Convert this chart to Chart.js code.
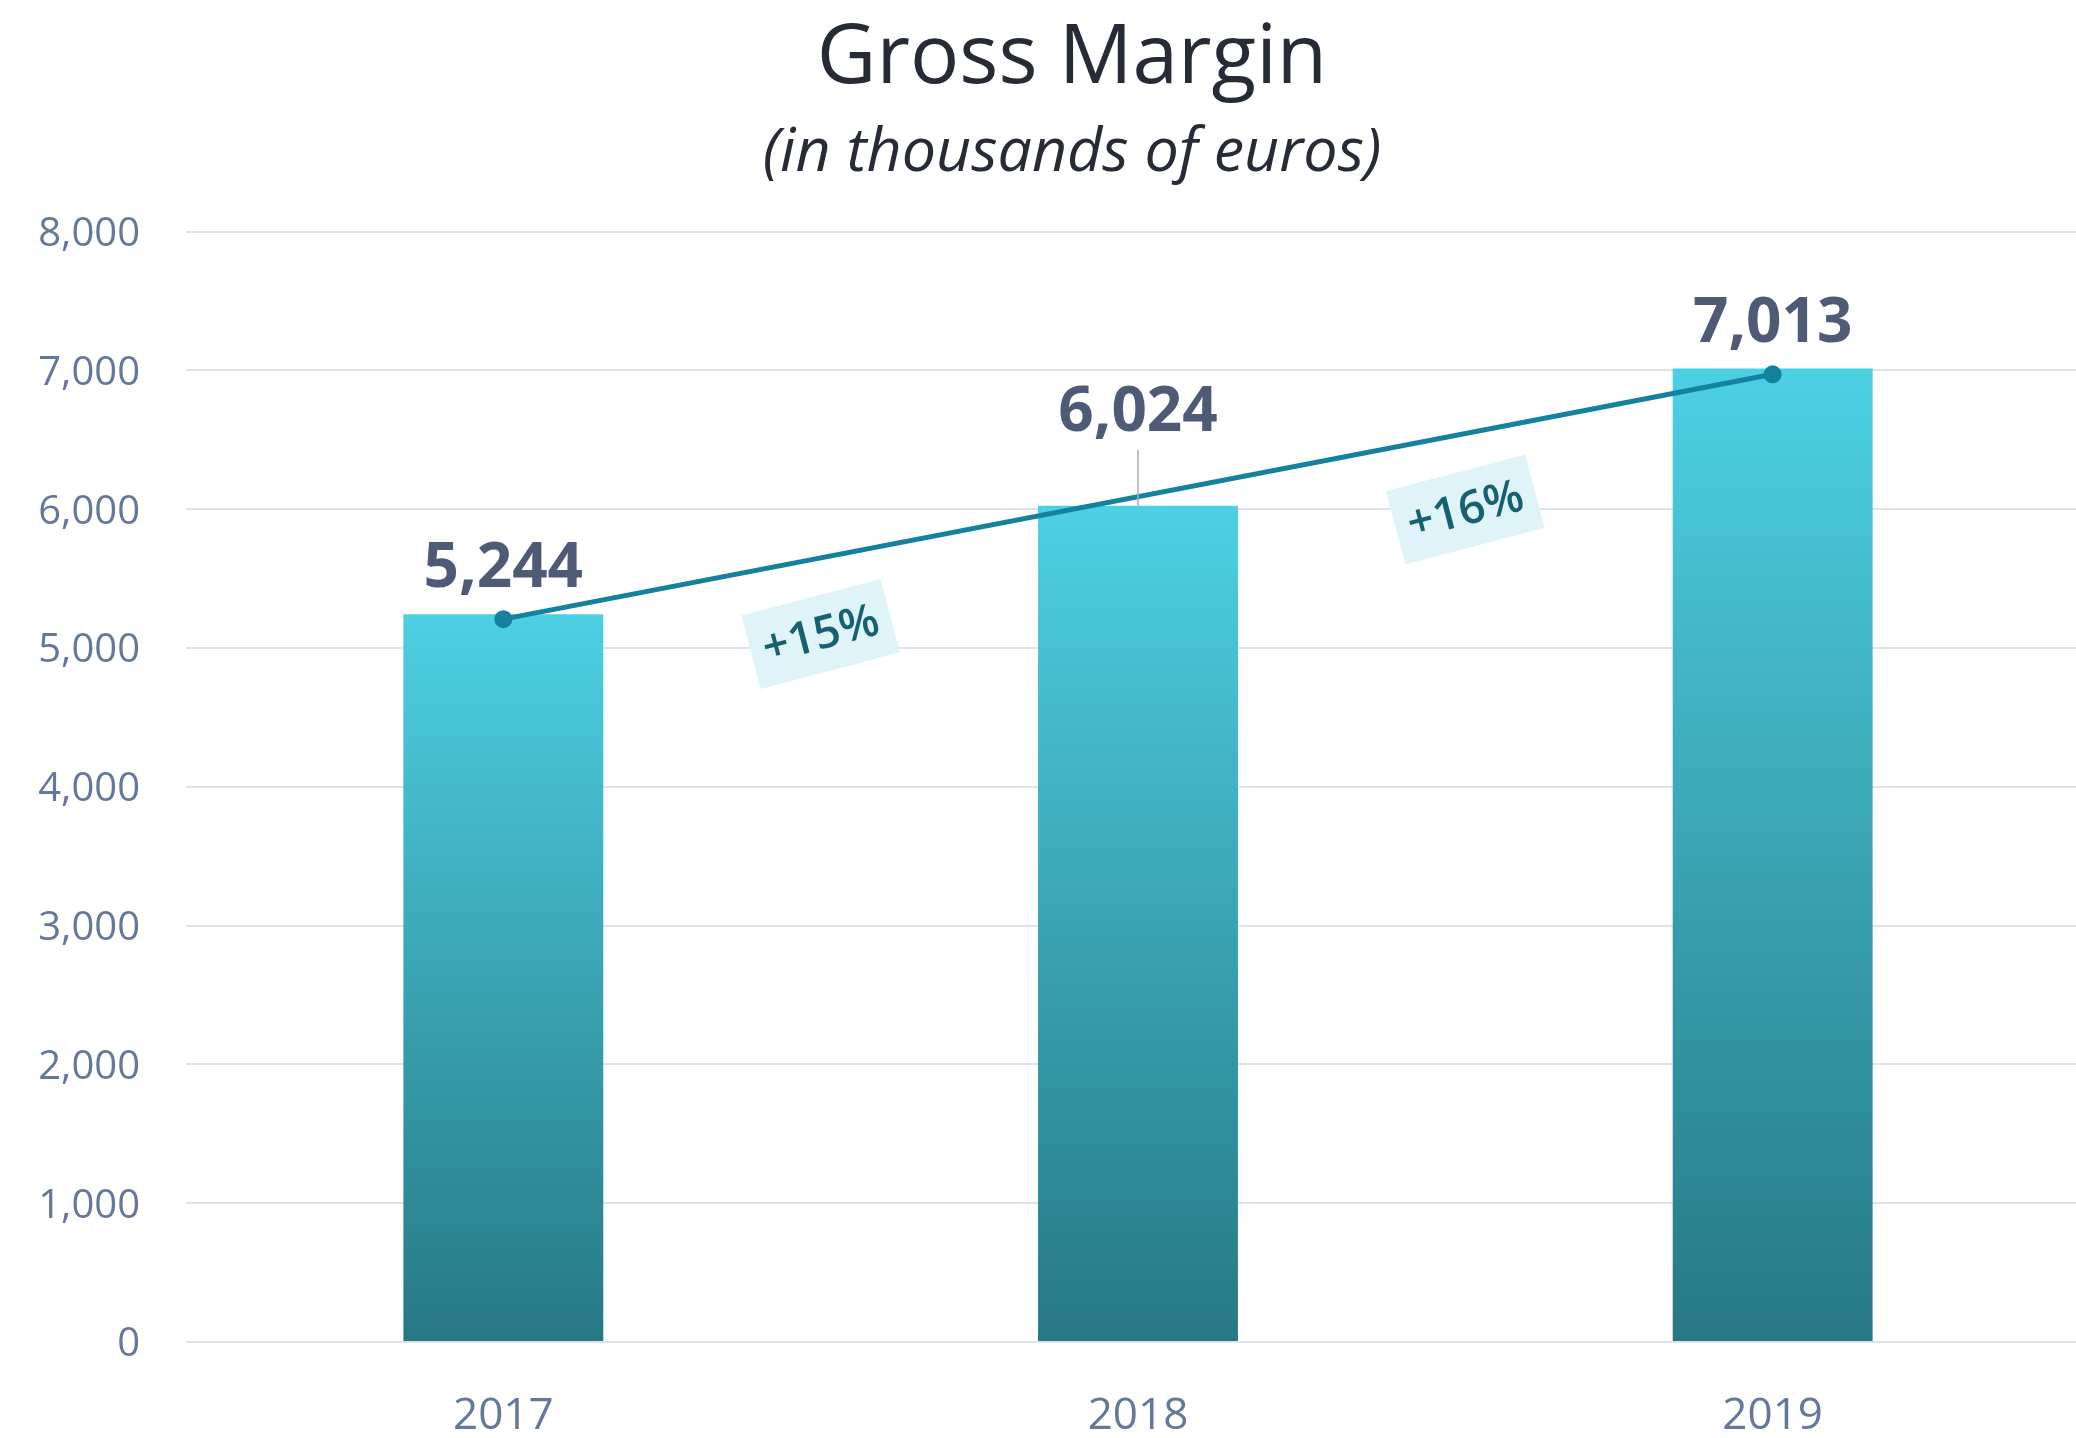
<!DOCTYPE html>
<html>
<head>
<meta charset="utf-8">
<script src="https://cdn.jsdelivr.net/npm/chart.js@4/dist/chart.umd.min.js"></script>
<style>
  html, body { margin: 0; padding: 0; background: #ffffff; overflow: hidden; }
  #wrap { width: 2144px; height: 1438px; }
</style>
</head>
<body>
<div id="wrap"><canvas id="c" width="2144" height="1438"></canvas></div>
<script>
// ---- data ----
const categories = ['2017', '2018', '2019'];
const marginValues = [5244, 6024, 7013];
const trendValues = [5208, null, 6972];
const growthLabels = ['+15%', '+16%'];
const yTicks = [0, 1000, 2000, 3000, 4000, 5000, 6000, 7000, 8000];
const titleText = 'Gross Margin';
const subtitleText = '(in thousands of euros)';

const FONT = '"Open Sans", "Noto Sans", sans-serif';

function barGradient(c) {
  const chart = c.chart;
  const { ctx, chartArea, scales } = chart;
  if (!chartArea) return '#4dd0e3';
  const v = c.raw;
  const yTop = scales.y.getPixelForValue(v);
  const yBot = scales.y.getPixelForValue(0);
  const g = ctx.createLinearGradient(0, yTop, 0, yBot);
  g.addColorStop(0, '#4dd0e3');
  g.addColorStop(1, '#277884');
  return g;
}

// line y at pixel x, from the trend dataset points
function trendYAt(chart, x) {
  const meta = chart.getDatasetMeta(1);
  const pts = meta.data.filter((p, i) => trendValues[i] !== null);
  for (let i = 0; i < pts.length - 1; i++) {
    const a = pts[i], b = pts[i + 1];
    if (x >= a.x && x <= b.x) {
      return a.y + (b.y - a.y) * (x - a.x) / (b.x - a.x);
    }
  }
  return null;
}

const labelsPlugin = {
  id: 'labelsPlugin',
  afterDatasetsDraw(chart) {
    const { ctx, scales } = chart;
    const meta = chart.getDatasetMeta(0);
    ctx.save();
    // value labels above bars
    meta.data.forEach((bar, i) => {
      const top = bar.y;
      const lineY = trendYAt(chart, bar.x);
      let baseline = top - 27;
      if (lineY !== null && lineY < top && lineY > top - 80) {
        baseline = top - 75;
        ctx.strokeStyle = '#a3abbd';
        ctx.lineWidth = 1.5;
        ctx.beginPath();
        ctx.moveTo(bar.x, top - 56);
        ctx.lineTo(bar.x, top);
        ctx.stroke();
      }
      ctx.font = 'bold 62px ' + FONT;
      ctx.fillStyle = '#4f5b76';
      ctx.textAlign = 'center';
      ctx.textBaseline = 'alphabetic';
      ctx.fillText(marginValues[i].toLocaleString('en-US'), bar.x, baseline);
    });
    // growth labels between bars
    growthLabels.forEach((txt, i) => {
      const x = scales.x.getPixelForValue(i + 0.5) + (i === 1 ? 10 : 0);
      const ly = trendYAt(chart, x);
      const y = ly + 76;
      ctx.save();
      ctx.translate(x, y);
      ctx.rotate(-14.7 * Math.PI / 180);
      ctx.fillStyle = '#dff4f8';
      ctx.fillRect(-72, -38, 144, 76);
      ctx.font = '600 46px ' + FONT;
      ctx.fillStyle = '#17606f';
      ctx.textAlign = 'center';
      ctx.textBaseline = 'middle';
      ctx.fillText(txt, 0, 2);
      ctx.restore();
    });
    ctx.restore();
  }
};

new Chart(document.getElementById('c'), {
  data: {
    labels: categories,
    datasets: [
      {
        type: 'bar',
        data: marginValues,
        backgroundColor: barGradient,
        borderWidth: 0,
        categoryPercentage: 1,
        barPercentage: 0.315,
        order: 2
      },
      {
        type: 'line',
        data: trendValues,
        spanGaps: true,
        borderColor: '#14829f',
        backgroundColor: '#14829f',
        borderWidth: 5,
        pointRadius: 9,
        pointBackgroundColor: '#14829f',
        pointBorderWidth: 0,
        tension: 0,
        order: 0
      }
    ]
  },
  options: {
    responsive: false,
    animation: false,
    devicePixelRatio: 1,
    layout: { padding: 0 },
    plugins: {
      legend: { display: false },
      tooltip: { enabled: false },
      title: {
        display: true,
        text: titleText,
        color: '#262b36',
        font: { family: FONT, size: 82, weight: 'normal', lineHeight: 1.2 },
        padding: { top: 10, bottom: 0 }
      },
      subtitle: {
        display: true,
        text: subtitleText,
        color: '#262b36',
        font: { family: FONT, size: 61, style: 'italic', weight: 'normal', lineHeight: 1.2 },
        padding: { top: 9, bottom: 41 }
      }
    },
    scales: {
      x: {
        grid: { display: false },
        border: { display: false },
        ticks: { color: '#66789a', font: { family: FONT, size: 44 }, padding: 40 },
        afterFit(s) { s.height = 96; }
      },
      y: {
        min: 0,
        max: 8000,
        afterBuildTicks(s) { s.ticks = yTicks.map(v => ({ value: v })); },
        grid: { color: '#dfe2ea', lineWidth: 2, drawTicks: false },
        border: { display: false },
        ticks: {
          color: '#66789a',
          font: { family: FONT, size: 40 },
          padding: 46,
          labelOffset: 3,
          callback: v => Number(v).toLocaleString('en-US')
        },
        afterFit(s) { s.width = 186; }
      },
      y2: {
        position: 'right',
        display: true,
        grid: { display: false },
        border: { display: false },
        ticks: { display: false },
        afterFit(s) { s.width = 54; }
      }
    }
  },
  plugins: [labelsPlugin]
});
</script>
</body>
</html>
